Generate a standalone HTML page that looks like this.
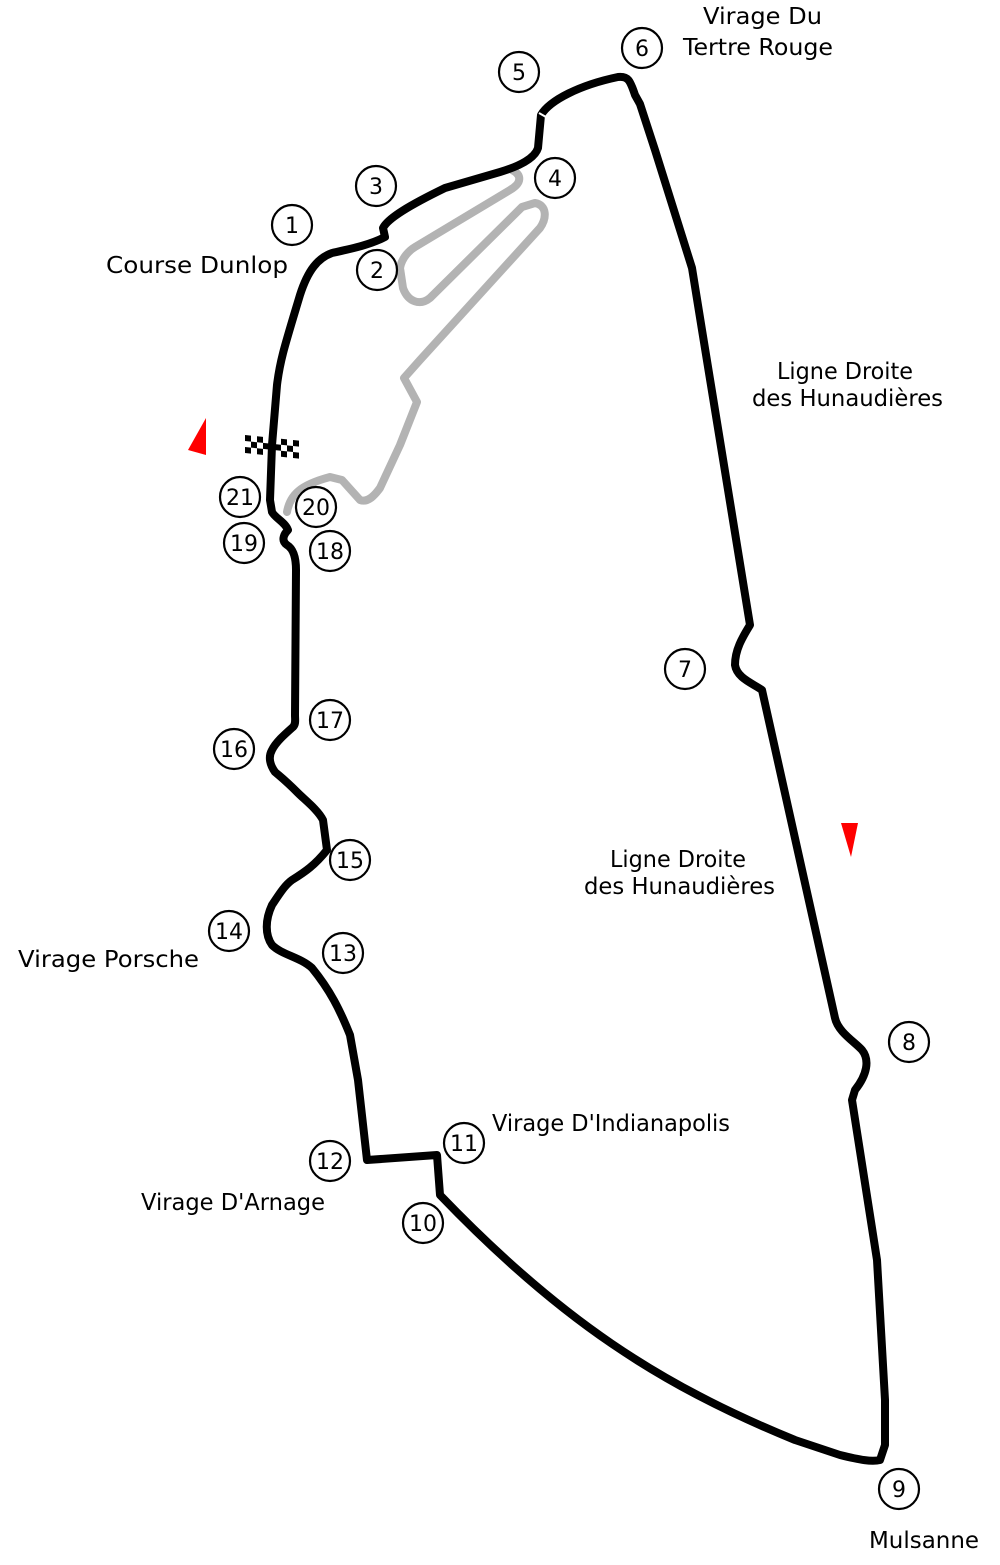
<!DOCTYPE html>
<html><head><meta charset="utf-8"><style>
html,body{margin:0;padding:0;background:#fff;}
svg{display:block;}
text{font-family:"DejaVu Sans","Liberation Sans",sans-serif;font-size:23px;fill:#000;}
.n{text-anchor:middle;font-size:22px;}
circle.c{fill:#fff;stroke:#000;stroke-width:2.2;}
</style></head><body>
<svg width="1000" height="1565" viewBox="0 0 1000 1565" xmlns="http://www.w3.org/2000/svg">
<path d="M287,512 C290,495 300,485 330,477 L342,480 L360,500 C368,503 375,495 380,488 L400,445 L417,402 L404,378 L420,360 L540,228 C547,218 547,205 535,203 L522,207 L430,298 C420,306 408,302 403,288 L400,268 C402,257 410,250 415,247 L510,190 C522,183 522,175 512,170" fill="none" stroke="#b3b3b3" stroke-width="8" stroke-linejoin="round" stroke-linecap="round"/>
<path d="M272,445 L277,385 C280,360 285,345 300,295 C308,270 318,258 332,253 C350,249 370,245 385,237 L383,228 C388,218 410,205 445,188 L500,172 C520,166 535,158 538,148 L541,115 C550,100 580,85 618,77 C628,76 630,80 635,95 L640,104 L655,150 L692,268 L702,330 L750,625 C742,638 735,650 735,665 C737,678 752,683 762,690 L835,1018 C838,1032 855,1042 862,1050 C870,1060 867,1075 855,1090 L852,1100 L877,1260 L885,1400 L885,1445 L880,1460 C872,1462 860,1460 840,1455 L795,1440 C660,1385 560,1320 440,1195 L437,1155 L367,1160 L358,1080 L350,1035 C340,1010 330,990 312,968 C300,957 282,955 272,945 C265,935 265,920 272,905 C280,893 285,885 292,880 C305,872 315,865 327,850 L323,820 C318,810 305,800 298,793 C285,780 282,778 275,772 C270,765 268,757 272,750 C276,742 284,735 293,727 C296,724 295,720 295,715 L296,570 C296,555 292,548 287,545 C280,540 285,533 288,530 C285,522 275,518 272,512 L270,500 Z" fill="none" stroke="#000" stroke-width="8" stroke-linejoin="round"/>
<line x1="539" y1="113" x2="546" y2="117" stroke="#fff" stroke-width="2"/>
<g transform="translate(245,435) skewY(6)" fill="#000">
<rect x="0" y="0" width="6" height="6"/><rect x="12" y="0" width="6" height="6"/><rect x="24" y="0" width="6" height="6"/><rect x="36" y="0" width="6" height="6"/><rect x="48" y="0" width="6" height="6"/>
<rect x="6" y="6" width="6" height="6"/><rect x="18" y="6" width="6" height="6"/><rect x="30" y="6" width="6" height="6"/><rect x="42" y="6" width="6" height="6"/>
<rect x="0" y="12" width="6" height="6"/><rect x="12" y="12" width="6" height="6"/><rect x="24" y="12" width="6" height="6"/><rect x="36" y="12" width="6" height="6"/><rect x="48" y="12" width="6" height="6"/>
</g>
<polygon points="206,418 188,450 206,455" fill="#f00"/>
<polygon points="841,823 858,823 851,857" fill="#f00"/>
<g>
<circle class="c" cx="292" cy="225" r="20"/><text class="n" x="292" y="233">1</text>
<circle class="c" cx="377" cy="270" r="20"/><text class="n" x="377" y="278">2</text>
<circle class="c" cx="376" cy="186" r="20"/><text class="n" x="376" y="194">3</text>
<circle class="c" cx="555" cy="178" r="20"/><text class="n" x="555" y="186">4</text>
<circle class="c" cx="519" cy="72" r="20"/><text class="n" x="519" y="80">5</text>
<circle class="c" cx="642" cy="48" r="20"/><text class="n" x="642" y="56">6</text>
<circle class="c" cx="685" cy="669" r="20"/><text class="n" x="685" y="677">7</text>
<circle class="c" cx="909" cy="1042" r="20"/><text class="n" x="909" y="1050">8</text>
<circle class="c" cx="899" cy="1489" r="20"/><text class="n" x="899" y="1497">9</text>
<circle class="c" cx="423" cy="1223" r="20"/><text class="n" x="423" y="1231">10</text>
<circle class="c" cx="464" cy="1143" r="20"/><text class="n" x="464" y="1151">11</text>
<circle class="c" cx="330" cy="1161" r="20"/><text class="n" x="330" y="1169">12</text>
<circle class="c" cx="343" cy="953" r="20"/><text class="n" x="343" y="961">13</text>
<circle class="c" cx="229" cy="931" r="20"/><text class="n" x="229" y="939">14</text>
<circle class="c" cx="350" cy="860" r="20"/><text class="n" x="350" y="868">15</text>
<circle class="c" cx="234" cy="749" r="20"/><text class="n" x="234" y="757">16</text>
<circle class="c" cx="330" cy="720" r="20"/><text class="n" x="330" y="728">17</text>
<circle class="c" cx="330" cy="551" r="20"/><text class="n" x="330" y="559">18</text>
<circle class="c" cx="244" cy="543" r="20"/><text class="n" x="244" y="551">19</text>
<circle class="c" cx="316" cy="507" r="20"/><text class="n" x="316" y="515">20</text>
<circle class="c" cx="240" cy="497" r="20"/><text class="n" x="240" y="505">21</text>
</g>
<text x="106" y="273" textLength="182" lengthAdjust="spacingAndGlyphs">Course Dunlop</text>
<text x="703" y="24" textLength="119" lengthAdjust="spacingAndGlyphs">Virage Du</text>
<text x="683" y="55" textLength="150" lengthAdjust="spacingAndGlyphs">Tertre Rouge</text>
<text x="777" y="379" textLength="136" lengthAdjust="spacingAndGlyphs">Ligne Droite</text>
<text x="752" y="406" textLength="191" lengthAdjust="spacingAndGlyphs">des Hunaudières</text>
<text x="610" y="867" textLength="136" lengthAdjust="spacingAndGlyphs">Ligne Droite</text>
<text x="584" y="894" textLength="191" lengthAdjust="spacingAndGlyphs">des Hunaudières</text>
<text x="18" y="967" textLength="181" lengthAdjust="spacingAndGlyphs">Virage Porsche</text>
<text x="492" y="1131" textLength="238" lengthAdjust="spacingAndGlyphs">Virage D'Indianapolis</text>
<text x="141" y="1210" textLength="184" lengthAdjust="spacingAndGlyphs">Virage D'Arnage</text>
<text x="869" y="1548" textLength="110" lengthAdjust="spacingAndGlyphs">Mulsanne</text>
</svg>
</body></html>
